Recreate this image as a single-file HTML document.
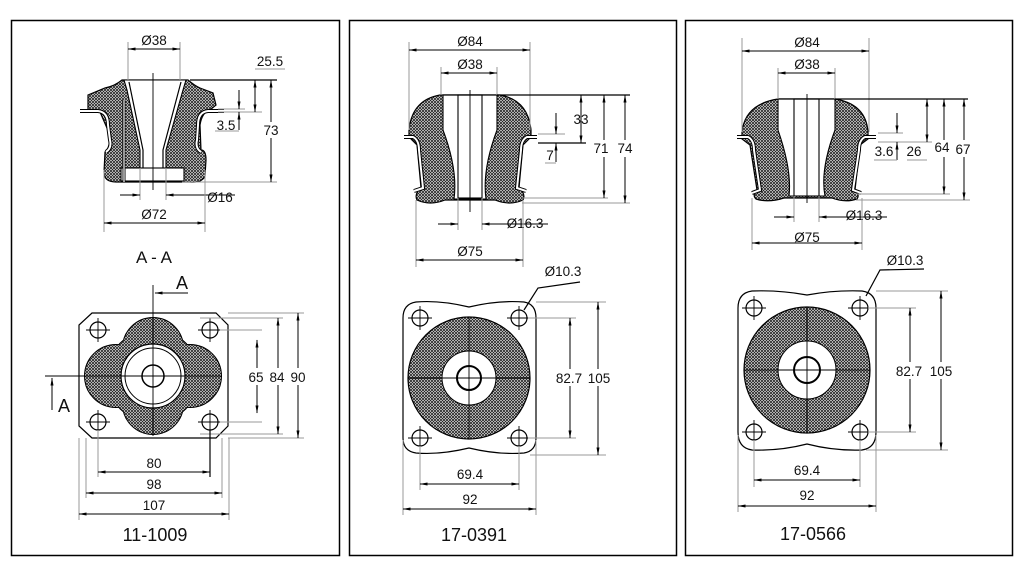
<!DOCTYPE html>
<html><head><meta charset="utf-8"><style>
html,body{margin:0;padding:0;background:#fff;}
svg{display:block;}
text{font-family:"Liberation Sans",sans-serif;fill:#111;}
.d{font-size:13.5px;text-anchor:middle;}
.l{font-size:18px;text-anchor:middle;}
.e{stroke:#999;stroke-width:1;fill:none;}
.m{stroke:#000;stroke-width:1;fill:none;marker-start:url(#ar);marker-end:url(#ar);}
.m1{stroke:#000;stroke-width:1;fill:none;marker-end:url(#ar);}
.k{stroke:#000;stroke-width:1.2;fill:none;}
.c{stroke:#000;stroke-width:0.9;fill:none;}
.h{fill:url(#hp);stroke:#000;stroke-width:1.2;}
.w{fill:#fff;stroke:#000;stroke-width:1.1;}
</style></head><body>
<svg width="1024" height="575" viewBox="0 0 1024 575">
<defs>
<pattern id="hp" patternUnits="userSpaceOnUse" width="3" height="3">
<rect width="3" height="3" fill="#fff"/>
<path d="M0,0 L3,3 M3,0 L0,3" stroke="#222" stroke-width="0.85"/>
</pattern>
<marker id="ar" markerWidth="8" markerHeight="4" refX="7.5" refY="2" orient="auto-start-reverse" markerUnits="userSpaceOnUse">
<path d="M0,0.5 L8,2 L0,3.5 Z" fill="#000"/>
</marker>
</defs>
<rect width="1024" height="575" fill="#fff"/>
<rect x="11.5" y="20.5" width="328" height="535" fill="none" stroke="#000" stroke-width="1.5"/>
<rect x="349.5" y="20.5" width="327" height="535" fill="none" stroke="#000" stroke-width="1.5"/>
<rect x="685.5" y="20.5" width="327" height="535" fill="none" stroke="#000" stroke-width="1.5"/>

<!-- ===== PANEL 1 side ===== -->
<path class="h" d="M122,80 L188,80 Q195,86 200,88 L213,93 L216,105 L210,110 Q202,112 200,125 L201,150 Q206,150 206,160 L205,176 Q202,183 190,182 L116,182 Q104,182 104,172 L105,152 Q110,148 110,135 L100,112 L88,110 L88,95 L105,88 Q115,86 122,80 Z"/>
<path d="M80,111 L98,111 Q108,112 108,125 L110,140 Q112,148 106,152" stroke="#000" stroke-width="4" fill="none"/>
<path d="M80,111 L98,111 Q108,112 108,125 L110,140 Q112,148 106,152" stroke="#fff" stroke-width="2" fill="none"/>
<path d="M224,111 L208,111 Q198,112 198,125 L197,140 Q195,148 201,152" stroke="#000" stroke-width="4" fill="none"/>
<path d="M224,111 L208,111 Q198,112 198,125 L197,140 Q195,148 201,152" stroke="#fff" stroke-width="2" fill="none"/>
<path class="w" d="M124,80 L186,80 L183,90 L166,150 L166,168 L140,168 L140,150 L127,90 Z"/>
<rect class="w" x="121" y="168" width="63" height="13"/>
<path class="k" d="M129,82 L143,150 L143,168 M181,82 L163,150 L163,168"/>
<line x1="124" y1="100" x2="124" y2="182" stroke="#000" stroke-width="3"/>
<line x1="124" y1="100" x2="124" y2="182" stroke="#fff" stroke-width="1.2"/>
<line class="c" x1="153" y1="73" x2="153" y2="190"/>
<line class="e" x1="128" y1="42" x2="128" y2="80"/><line class="e" x1="180" y1="42" x2="180" y2="80"/>
<line class="m" x1="128" y1="49" x2="180" y2="49"/><text class="d" x="154" y="45">Ø38</text>
<line class="k" x1="190" y1="80" x2="277" y2="80"/>
<line class="e" x1="182" y1="182" x2="277" y2="182"/>
<line class="m" x1="271" y1="80" x2="271" y2="182"/>
<rect x="262" y="122" width="18" height="16" fill="#fff"/><text class="d" x="271" y="135">73</text>
<line class="e" x1="218" y1="112" x2="262" y2="112"/><line class="e" x1="218" y1="109" x2="245" y2="109"/>
<line class="m" x1="255" y1="80" x2="255" y2="112"/>
<line class="e" x1="255" y1="69" x2="285" y2="69"/><text class="d" x="270" y="66">25.5</text>
<line class="m1" x1="239" y1="90" x2="239" y2="109"/><line class="m1" x1="239" y1="130" x2="239" y2="112"/>
<line class="e" x1="215" y1="131" x2="239" y2="131"/><text class="d" x="226" y="130">3.5</text>
<line class="e" x1="140" y1="168" x2="140" y2="200"/><line class="e" x1="166" y1="168" x2="166" y2="200"/>
<line class="m1" x1="120" y1="195" x2="140" y2="195"/><line class="m1" x1="190" y1="195" x2="166" y2="195"/>
<line class="c" x1="166" y1="195" x2="235" y2="195"/><text class="d" x="220" y="202">Ø16</text>
<line class="e" x1="104" y1="170" x2="104" y2="232"/><line class="e" x1="205" y1="170" x2="205" y2="232"/>
<line class="m" x1="104" y1="223" x2="205" y2="223"/><text class="d" x="154" y="219">Ø72</text>
<text class="l" x="154" y="263" style="font-size:17px">A - A</text>

<!-- ===== PANEL 1 plan ===== -->
<line class="c" x1="153" y1="285" x2="153" y2="318"/>
<line class="m1" x1="188" y1="293" x2="155" y2="293"/><text class="l" x="182" y="289">A</text>
<line class="c" x1="45" y1="376" x2="85" y2="376"/>
<line class="m1" x1="52" y1="410" x2="52" y2="378"/><text class="l" x="64" y="412">A</text>
<path class="k" d="M92,313 L216,313 L228,325 L228,426 L216,438 L92,438 L79,426 L79,325 Z"/>
<g stroke="#000" stroke-width="2" fill="none">
<circle cx="153" cy="348" r="30"/><circle cx="153" cy="404" r="30"/><circle cx="116" cy="376" r="31"/><circle cx="190" cy="376" r="31"/><circle cx="153" cy="376" r="46"/>
</g>
<g fill="url(#hp)">
<circle cx="153" cy="348" r="30"/><circle cx="153" cy="404" r="30"/><circle cx="116" cy="376" r="31"/><circle cx="190" cy="376" r="31"/><circle cx="153" cy="376" r="46"/>
</g>
<circle cx="153" cy="376" r="32" fill="#fff" stroke="#000" stroke-width="1.2"/>
<circle cx="153" cy="376" r="28" fill="none" stroke="#000" stroke-width="1"/>
<circle cx="153" cy="376" r="11" fill="none" stroke="#000" stroke-width="1.5"/>
<line class="c" x1="153" y1="318" x2="153" y2="436"/><line class="c" x1="85" y1="376" x2="222" y2="376"/>
<g class="k">
<circle cx="98" cy="330" r="8"/><circle cx="210" cy="330" r="8"/><circle cx="98" cy="422" r="8"/><circle cx="210" cy="422" r="8"/>
</g>
<g class="c">
<path d="M86,330 H110 M98,318 V342 M198,330 H222 M210,318 V342 M86,422 H110 M98,410 V434 M198,422 H222 M210,410 V434"/>
</g>
<line class="e" x1="220" y1="330" x2="262" y2="330"/><line class="e" x1="220" y1="422" x2="262" y2="422"/>
<line class="e" x1="200" y1="318" x2="283" y2="318"/><line class="e" x1="200" y1="434" x2="283" y2="434"/>
<line class="e" x1="228" y1="313" x2="304" y2="313"/><line class="e" x1="228" y1="438" x2="304" y2="438"/>
<line class="m" x1="257" y1="340" x2="257" y2="413"/>
<line class="m" x1="278" y1="318" x2="278" y2="434"/>
<line class="m" x1="298" y1="313" x2="298" y2="438"/>
<rect x="244" y="368" width="68" height="17" fill="#fff"/>
<text class="d" x="256" y="382">65</text><text class="d" x="277" y="382">84</text><text class="d" x="298" y="382">90</text>
<line class="e" x1="98" y1="430" x2="98" y2="477"/><line class="k" x1="210" y1="430" x2="210" y2="477"/>
<line class="e" x1="86" y1="438" x2="86" y2="498"/><line class="e" x1="222" y1="438" x2="222" y2="498"/>
<line class="e" x1="79" y1="438" x2="79" y2="520"/><line class="e" x1="229" y1="438" x2="229" y2="520"/>
<line class="m" x1="98" y1="472" x2="210" y2="472"/><text class="d" x="154" y="468">80</text>
<line class="m" x1="86" y1="493" x2="222" y2="493"/><text class="d" x="154" y="489">98</text>
<line class="m" x1="79" y1="514" x2="229" y2="514"/><text class="d" x="154" y="510">107</text>
<text class="l" x="155" y="541">11-1009</text>

<!-- ===== PANEL 2 side ===== -->
<path class="h" d="M409,130 Q412,100 440,95 L500,95 Q528,100 531,130 L531,137 L523,145 L519,188 Q526,194 523,200 Q510,206 495,200 L445,200 Q430,206 417,200 Q414,194 421,188 L417,145 L409,137 Z"/>
<path d="M404,137 L413,137 Q419,140 419,150 L423,188 L414,191" stroke="#000" stroke-width="4" fill="none"/>
<path d="M404,137 L413,137 Q419,140 419,150 L423,188 L414,191" stroke="#fff" stroke-width="2" fill="none"/>
<path d="M537,137 L527,137 Q521,140 521,150 L517,188 L526,191" stroke="#000" stroke-width="4" fill="none"/>
<path d="M537,137 L527,137 Q521,140 521,150 L517,188 L526,191" stroke="#fff" stroke-width="2" fill="none"/>
<path class="w" d="M443,95 L497,95 L497,130 Q482,170 486,199 L454,199 Q458,170 443,130 Z"/>
<rect class="w" x="458" y="95" width="24" height="103"/>
<line class="k" x1="443" y1="95" x2="497" y2="95" stroke-width="2"/>
<line class="c" x1="470" y1="90" x2="470" y2="212"/>
<line class="e" x1="409" y1="42" x2="409" y2="130"/><line class="e" x1="530" y1="42" x2="530" y2="130"/>
<line class="m" x1="409" y1="50" x2="530" y2="50"/><text class="d" x="470" y="46">Ø84</text>
<line class="e" x1="441" y1="67" x2="441" y2="95"/><line class="e" x1="497" y1="67" x2="497" y2="95"/>
<line class="m" x1="441" y1="73" x2="497" y2="73"/><text class="d" x="470" y="69">Ø38</text>
<line class="k" x1="497" y1="95" x2="630" y2="95"/>
<line class="e" x1="538" y1="134" x2="565" y2="134"/>
<line class="k" x1="538" y1="143" x2="586" y2="143"/>
<line class="e" x1="522" y1="198" x2="608" y2="198"/><line class="e" x1="522" y1="203" x2="630" y2="203"/>
<line class="m" x1="581" y1="95" x2="581" y2="143"/><text class="d" x="581" y="124">33</text>
<line class="m1" x1="556" y1="113" x2="556" y2="134"/><line class="m1" x1="556" y1="162" x2="556" y2="143"/>
<line class="e" x1="545" y1="163" x2="556" y2="163"/><text class="d" x="550" y="160">7</text>
<line class="m" x1="604" y1="95" x2="604" y2="198"/>
<line class="m" x1="625" y1="95" x2="625" y2="203"/>
<rect x="592" y="140" width="44" height="17" fill="#fff"/>
<text class="d" x="601" y="153">71</text><text class="d" x="625" y="153">74</text>
<line class="e" x1="458" y1="198" x2="458" y2="230"/><line class="e" x1="482" y1="198" x2="482" y2="230"/>
<line class="m1" x1="438" y1="224" x2="458" y2="224"/><line class="m1" x1="502" y1="224" x2="482" y2="224"/>
<line class="c" x1="482" y1="224" x2="548" y2="224"/><text class="d" x="525" y="228">Ø16.3</text>
<line class="e" x1="416" y1="200" x2="416" y2="267"/><line class="e" x1="523" y1="200" x2="523" y2="267"/>
<line class="m" x1="416" y1="260" x2="523" y2="260"/><text class="d" x="470" y="256">Ø75</text>

<!-- ===== PANEL 2 plan ===== -->
<path class="k" d="M416,302 Q440,300 469,307 Q498,300 524,302 Q536,304 536,318 L536,438 Q536,451 524,453 Q498,455 469,448 Q440,455 416,453 Q403,451 403,438 L403,318 Q403,304 416,302 Z"/>
<circle cx="469" cy="378" r="61" fill="url(#hp)" stroke="#000" stroke-width="1.2"/>
<circle cx="469" cy="378" r="27" fill="#fff" stroke="#000" stroke-width="1"/>
<circle cx="469" cy="378" r="12" fill="none" stroke="#000" stroke-width="2"/>
<line class="c" x1="469" y1="317" x2="469" y2="439"/><line class="c" x1="408" y1="378" x2="530" y2="378"/>
<g class="k"><circle cx="420" cy="318" r="8"/><circle cx="519" cy="318" r="8"/><circle cx="420" cy="438" r="8"/><circle cx="519" cy="438" r="8"/></g>
<path class="c" d="M408,318 H432 M420,306 V330 M507,318 H531 M519,306 V330 M408,438 H432 M420,426 V450 M507,438 H531 M519,426 V450"/>
<path class="k" d="M524,310 L538,288 L580,282"/><text class="d" x="563" y="276">Ø10.3</text>
<line class="e" x1="528" y1="318" x2="576" y2="318"/><line class="e" x1="528" y1="438" x2="576" y2="438"/>
<line class="e" x1="536" y1="302" x2="606" y2="302"/><line class="e" x1="530" y1="455" x2="606" y2="455"/>
<line class="m" x1="570" y1="318" x2="570" y2="438"/>
<line class="m" x1="598" y1="302" x2="598" y2="455"/>
<rect x="553" y="369" width="62" height="17" fill="#fff"/>
<text class="d" x="569" y="383">82.7</text><text class="d" x="599" y="383">105</text>
<line class="e" x1="420" y1="446" x2="420" y2="490"/><line class="e" x1="519" y1="446" x2="519" y2="490"/>
<line class="e" x1="403" y1="440" x2="403" y2="515"/><line class="e" x1="536" y1="440" x2="536" y2="515"/>
<line class="m" x1="420" y1="484" x2="519" y2="484"/><text class="d" x="470" y="479">69.4</text>
<line class="m" x1="403" y1="509" x2="536" y2="509"/><text class="d" x="470" y="504">92</text>
<text class="l" x="474" y="541">17-0391</text>

<!-- ===== PANEL 3 side ===== -->
<path class="h" d="M742,132 Q745,104 778,99 L835,99 Q866,104 868,132 L868,139 L860,145 L855,190 Q860,195 857,199 Q845,203 832,198 L784,198 Q768,203 756,199 Q752,195 757,190 L750,145 L742,139 Z"/>
<path d="M737,137 L748,137 Q754,140 754,150 L760,190 L752,193" stroke="#000" stroke-width="4" fill="none"/>
<path d="M737,137 L748,137 Q754,140 754,150 L760,190 L752,193" stroke="#fff" stroke-width="2" fill="none"/>
<path d="M876,137 L865,137 Q859,140 859,150 L853,190 L861,193" stroke="#000" stroke-width="4" fill="none"/>
<path d="M876,137 L865,137 Q859,140 859,150 L853,190 L861,193" stroke="#fff" stroke-width="2" fill="none"/>
<path class="w" d="M778,99 L835,99 L835,130 Q820,170 825,196 L789,196 Q792,170 778,130 Z"/>
<rect class="w" x="794" y="99" width="25" height="97"/>
<line class="k" x1="778" y1="99" x2="835" y2="99" stroke-width="2"/>
<line class="c" x1="807" y1="94" x2="807" y2="203"/>
<line class="e" x1="742" y1="38" x2="742" y2="132"/><line class="e" x1="869" y1="38" x2="869" y2="132"/>
<line class="m" x1="742" y1="51" x2="869" y2="51"/><text class="d" x="807" y="47">Ø84</text>
<line class="e" x1="778" y1="68" x2="778" y2="99"/><line class="e" x1="835" y1="68" x2="835" y2="99"/>
<line class="m" x1="778" y1="73" x2="835" y2="73"/><text class="d" x="807" y="69">Ø38</text>
<line class="k" x1="835" y1="99" x2="968" y2="99"/>
<line class="e" x1="878" y1="133" x2="903" y2="133"/>
<line class="e" x1="878" y1="142" x2="933" y2="142"/>
<line class="m1" x1="897" y1="113" x2="897" y2="133"/><line class="m1" x1="897" y1="160" x2="897" y2="142"/>
<line class="e" x1="874" y1="160" x2="897" y2="160"/><text class="d" x="884" y="156">3.6</text>
<line class="m" x1="927" y1="99" x2="927" y2="142"/>
<line class="e" x1="907" y1="160" x2="927" y2="160"/><text class="d" x="914" y="156">26</text>
<line class="e" x1="856" y1="194" x2="950" y2="194"/><line class="e" x1="856" y1="200" x2="970" y2="200"/>
<line class="m" x1="944" y1="99" x2="944" y2="194"/>
<line class="m" x1="964" y1="99" x2="964" y2="200"/>
<rect x="932" y="140" width="44" height="17" fill="#fff"/>
<text class="d" x="942" y="152">64</text><text class="d" x="963" y="154">67</text>
<line class="e" x1="794" y1="196" x2="794" y2="222"/><line class="e" x1="819" y1="196" x2="819" y2="222"/>
<line class="m1" x1="774" y1="217" x2="794" y2="217"/><line class="m1" x1="839" y1="217" x2="819" y2="217"/>
<line class="c" x1="819" y1="217" x2="887" y2="217"/><text class="d" x="864" y="220">Ø16.3</text>
<line class="e" x1="752" y1="198" x2="752" y2="250"/><line class="e" x1="862" y1="198" x2="862" y2="250"/>
<line class="m" x1="752" y1="243" x2="862" y2="243"/><text class="d" x="807" y="242">Ø75</text>

<!-- ===== PANEL 3 plan ===== -->
<path class="k" d="M752,291 Q780,290 807,295 Q834,290 862,291 Q876,293 876,308 L876,432 Q876,448 862,450 Q834,451 807,444 Q780,451 752,450 Q738,448 738,432 L738,308 Q738,293 752,291 Z"/>
<circle cx="807" cy="370" r="63" fill="url(#hp)" stroke="#000" stroke-width="1.2"/>
<circle cx="807" cy="370" r="29" fill="#fff" stroke="#000" stroke-width="1"/>
<circle cx="807" cy="370" r="13" fill="none" stroke="#000" stroke-width="2"/>
<line class="c" x1="807" y1="307" x2="807" y2="433"/><line class="c" x1="744" y1="370" x2="870" y2="370"/>
<g class="k"><circle cx="754" cy="308" r="8"/><circle cx="860" cy="308" r="8"/><circle cx="754" cy="432" r="8"/><circle cx="860" cy="432" r="8"/></g>
<path class="c" d="M742,308 H766 M754,296 V320 M848,308 H872 M860,296 V320 M742,432 H766 M754,420 V444 M848,432 H872 M860,420 V444"/>
<path class="k" d="M866,296 L880,270 L924,269"/><text class="d" x="905" y="265">Ø10.3</text>
<line class="e" x1="868" y1="308" x2="916" y2="308"/><line class="e" x1="868" y1="432" x2="916" y2="432"/>
<line class="e" x1="876" y1="291" x2="948" y2="291"/><line class="e" x1="866" y1="450" x2="948" y2="450"/>
<line class="m" x1="910" y1="308" x2="910" y2="432"/>
<line class="m" x1="941" y1="291" x2="941" y2="450"/>
<rect x="892" y="362" width="64" height="17" fill="#fff"/>
<text class="d" x="909" y="376">82.7</text><text class="d" x="941" y="376">105</text>
<line class="e" x1="754" y1="440" x2="754" y2="487"/><line class="e" x1="860" y1="440" x2="860" y2="487"/>
<line class="e" x1="738" y1="435" x2="738" y2="512"/><line class="e" x1="876" y1="435" x2="876" y2="512"/>
<line class="m" x1="754" y1="480" x2="860" y2="480"/><text class="d" x="807" y="475">69.4</text>
<line class="m" x1="738" y1="506" x2="876" y2="506"/><text class="d" x="807" y="500">92</text>
<text class="l" x="813" y="540">17-0566</text>
</svg>
</body></html>
